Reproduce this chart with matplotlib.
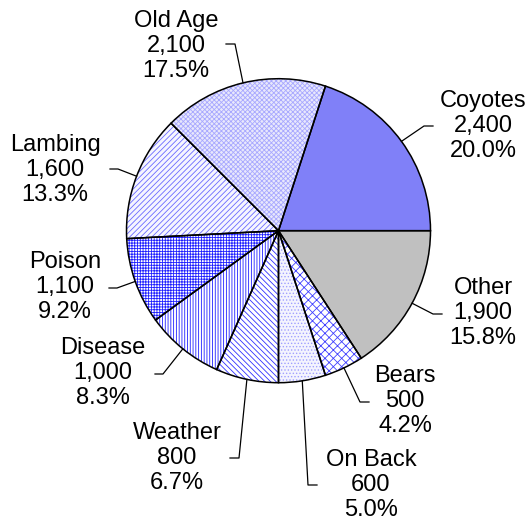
import matplotlib.pyplot as plt
import numpy as np

plt.rcParams['font.family'] = ['Liberation Sans', 'DejaVu Sans']
plt.rcParams['hatch.linewidth'] = 0.6

# data
kategorien = ['Coyotes', 'Other', 'Bears', 'On Back', 'Weather',
              'Disease', 'Poison', 'Lambing', 'Old Age']
werte = [2400, 1900, 500, 600, 800, 1000, 1100, 1600, 2100]

# style per slice (face, hatch, hatch colour)
stile = [('#8080f8', None, None), ('#c0c0c0', None, None),
         ('white', 'xxxx', '#4040ff'), ('#f4f4fe', '.....', '#a0a0ff'),
         ('white', '\\\\\\\\\\\\', '#3030ff'), ('white', '||||||', '#2020ff'),
         ('white', '++++++', '#2020ff'), ('#f6f6ff', '//////', '#6a6aff'),
         ('#e8e8fc', 'xxxxxxx', '#a8a8ff')]

# label layout in pixels: text centre, stub (x near text, x elbow, y)
textpos = [(483, 126), (483, 313), (405, 401), (371, 485), (177, 458),
           (103, 373), (65, 287), (55, 170), (176, 46)]
stubs = [(433, 424, 126), (442, 433, 314), (369, 360, 402), (317, 308, 485),
         (230, 239, 458), (155, 163, 374), (109, 117, 288), (110, 118, 169),
         (226, 235, 44)]

W, H = 529, 523
cx, cy, r = 278.5, H - 230.7, 152

fig = plt.figure(figsize=(W / 100, H / 100), dpi=100)
ax = fig.add_axes([0, 0, 1, 1])

start = 72
wedges, _ = ax.pie(werte, startangle=start, counterclock=False,
                   center=(cx, cy), radius=r, frame=True)
for w, (fc, h, hc) in zip(wedges, stile):
    w.set_facecolor(fc)
    w.set_edgecolor(hc if h else fc)
    w.set_linewidth(0)
    if h:
        w.set_hatch(h)
ax.pie(werte, startangle=start, counterclock=False, center=(cx, cy),
       radius=r, frame=True,
       wedgeprops=dict(fill=False, edgecolor='black', linewidth=1.1))

gesamt = sum(werte)
winkel = start - np.cumsum([0] + werte[:-1]) / gesamt * 360 - np.array(werte) / gesamt * 180
for name, v, a, (tx, ty), (x0, x1, sy) in zip(kategorien, werte, winkel, textpos, stubs):
    ex = cx + r * np.cos(np.radians(a))
    ey = cy + r * np.sin(np.radians(a))
    ax.plot([x0, x1, ex], [H - sy, H - sy, ey], color='black', lw=0.9)
    ax.text(tx, H - ty, f'{name}\n{v:,}\n{v / gesamt * 100:.1f}%',
            ha='center', va='center', fontsize=17, linespacing=1.18)

ax.set_xlim(0, W)
ax.set_ylim(0, H)
ax.axis('off')
fig.savefig('out.png', dpi=100)
